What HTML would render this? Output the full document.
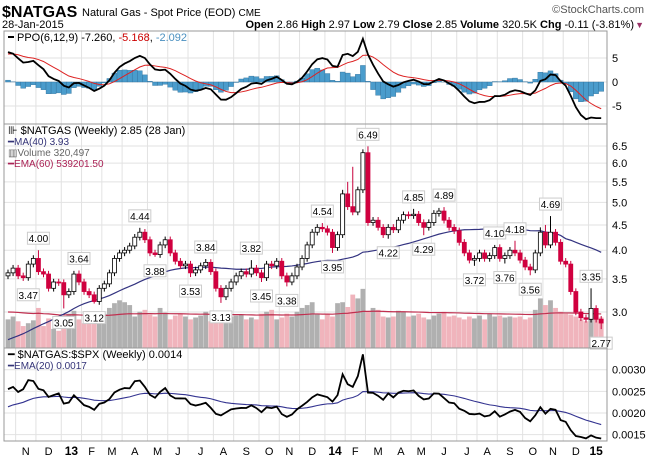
<!DOCTYPE html>
<html><head><meta charset="utf-8"><style>
body{margin:0;background:#fff;font-family:"Liberation Sans",sans-serif;}
svg{display:block}
text{font-family:"Liberation Sans",sans-serif;}
</style></head><body>
<svg id="c" width="649" height="460" viewBox="0 0 649 460" xmlns="http://www.w3.org/2000/svg">
<text x="2" y="17" font-size="16" font-weight="bold">$NATGAS</text>
<text x="82" y="16" font-size="11">Natural Gas - Spot Price (EOD) <tspan font-size="10">CME</tspan></text>
<text x="644" y="13" font-size="11" fill="#555" text-anchor="end">©StockCharts.com</text>
<text x="2" y="28" font-size="11">28-Jan-2015</text>
<text x="634" y="28" font-size="11" text-anchor="end"><tspan font-weight="bold">Open</tspan> 2.86  <tspan font-weight="bold">High</tspan> 2.97  <tspan font-weight="bold">Low</tspan> 2.79  <tspan font-weight="bold">Close</tspan> 2.85  <tspan font-weight="bold">Volume</tspan> 320.5K  <tspan font-weight="bold">Chg</tspan> -0.11 (-3.81%)</text>
<text x="644" y="28" font-size="9" fill="#993366" text-anchor="end">▼</text>
<g id="grid"></g><g id="marks"></g>
<rect x="4" y="31" width="603" height="93" fill="none" stroke="#999"/>
<rect x="4" y="124" width="603" height="224" fill="none" stroke="#999"/>
<rect x="4" y="348" width="603" height="93" fill="none" stroke="#999"/>
<g id="legend">
<rect x="8" y="36" width="6" height="2" fill="#000"/>
<text x="17" y="41" font-size="11">PPO(6,12,9) -7.260, <tspan fill="#cc0000">-5.168</tspan>, <tspan fill="#4a90c0">-2.092</tspan></text>
<text x="8" y="134" font-size="11">⊪ $NATGAS (Weekly) 2.85 (28 Jan)</text>
<text x="8" y="145" font-size="10" fill="#333377">━MA(40) 3.93</text>
<text x="8" y="156" font-size="10" fill="#666">▥Volume 320,497</text>
<text x="8" y="167" font-size="10" fill="#aa2255">━EMA(60) 539201.50</text>
<text x="8" y="358" font-size="11">━ $NATGAS:$SPX (Weekly) 0.0014</text>
<text x="8" y="369" font-size="10" fill="#333377">━EMA(20) 0.0017</text>
</g>
</svg>
<script>
const pre = [2.7,2.6,2.5,2.5,2.45,2.4,2.3,2.2,2.1,2.0,1.95,1.9,1.85,1.95,2.05,2.2,2.35,2.45,2.5,2.45,2.4,2.45,2.6,2.75,2.85,2.8,2.75,2.7,2.75,2.8,2.85,2.95,3.05,3.2,3.35,3.45,3.55,3.6,3.65];
const closes = [3.6,3.68,3.55,3.52,3.75,3.85,3.62,3.58,3.35,3.45,3.44,3.25,3.3,3.58,3.45,3.3,3.25,3.15,3.35,3.42,
3.6,3.85,3.95,4.0,4.08,4.25,4.35,4.2,3.95,3.92,4.1,4.2,3.95,3.8,3.72,3.75,3.6,3.65,3.72,3.78,
3.62,3.35,3.22,3.35,3.45,3.55,3.62,3.58,3.68,3.6,3.52,3.75,3.72,3.8,3.55,3.45,3.55,3.7,3.85,4.1,
4.35,4.45,4.42,4.35,4.05,4.3,5.2,4.9,4.78,5.3,6.3,4.55,4.6,4.45,4.3,4.45,4.4,4.6,4.72,4.7,
4.73,4.55,4.45,4.55,4.75,4.8,4.6,4.45,4.38,4.15,3.95,3.82,3.85,3.95,3.85,3.9,4.05,3.85,3.9,4.0,
3.95,3.82,3.7,3.65,3.95,4.35,4.1,4.35,4.15,3.8,3.75,3.3,3.0,2.92,2.9,3.05,2.9,2.85];
const volumes = [300,330,280,230,260,290,420,230,310,200,180,330,360,390,300,260,280,300,320,360,
420,470,500,480,450,330,380,400,350,330,420,370,300,340,360,330,300,320,340,380,
280,330,360,300,330,340,350,300,320,300,360,380,400,300,320,360,330,380,420,450,
480,360,300,360,330,470,480,430,560,520,620,380,420,400,330,320,330,390,380,330,
340,360,320,300,340,360,380,330,340,320,300,330,310,340,300,360,330,340,320,330,
320,330,300,320,400,520,450,500,420,380,360,350,330,300,280,350,300,320];
const spx = [1411,1414,1428,1380,1359,1406,1416,1418,1413,1430,1402,1466,1472,1486,1502,1513,1517,1519,1515,1525,
1551,1556,1556,1553,1588,1555,1582,1614,1633,1667,1649,1631,1643,1626,1592,1606,1632,1680,1692,1691,
1709,1691,1655,1663,1655,1687,1710,1692,1691,1703,1744,1760,1761,1770,1798,1805,1806,1775,1776,1818,
1842,1831,1842,1839,1790,1782,1797,1838,1836,1859,1878,1841,1866,1857,1865,1815,1864,1863,1878,1878,
1877,1900,1923,1949,1936,1962,1961,1985,1967,1978,1925,1931,1955,1988,2003,2007,1985,2010,1982,1968,
1906,1886,1964,2018,2031,2039,2067,2075,2002,2070,2088,2058,2044,2019,2051,2057,2028,2020];
const callouts = [[6,4.00,'h'],[4,3.47,'l'],[11,3.05,'l'],[14,3.64,'h'],[17,3.12,'l'],[26,4.44,'h'],[29,3.88,'l'],[39,3.84,'h'],[36,3.53,'l'],[42,3.13,'l'],[48,3.82,'h'],[50,3.45,'l'],[55,3.38,'l'],[62,4.54,'h'],[64,3.95,'l'],[71,6.49,'h'],[75,4.22,'l'],[80,4.85,'h'],[82,4.29,'l'],[86,4.89,'h'],[92,3.72,'l'],[96,4.10,'h'],[98,3.76,'l'],[100,4.18,'h'],[103,3.56,'l'],[107,4.69,'h'],[115,3.35,'h'],[117,2.77,'l']];
const extraHighs = [[66,5.3],[67,5.5],[68,5.9],[70,6.4],[105,4.45],[106,4.5]];
const priceTicks = [3.0,3.5,4.0,4.5,5.0,5.5,6.0,6.5];
const ppoTicks = [5,0,-5];
const ratioTicks = [0.0030,0.0025,0.0020,0.0015];
const startDate = [2012,9,22];
const firstOpen = 3.55;
const volSeed = 380;
const ratioEmaSeed = 0.0021;

const NS='http://www.w3.org/2000/svg';
const G=document.getElementById('grid'), M=document.getElementById('marks');
function mk(tag,attrs,parent){const e=document.createElementNS(NS,tag);for(const k in attrs)e.setAttribute(k,attrs[k]);(parent||M).appendChild(e);return e;}
const N=closes.length;
const xOf=i=>8+i*5.07;
const yP=p=>312-214.7*Math.log(p/3);
const yPPO=v=>82-v*4.8;
const yR=r=>413-(r-0.002)*43300;
const yV=v=>348-v/650*62;

const d0=new Date(startDate[0],startDate[1],startDate[2]);
const months=[];
for(let i=0;i<N;i++){const d=new Date(d0.getTime()+i*7*864e5);const m=d.getMonth();if(!months.length||months[months.length-1].m!==m)months.push({m:m,y:d.getFullYear(),s:i,e:i});else months[months.length-1].e=i;}
const ML='JFMAMJJASOND';
months.forEach((mo,k)=>{
  const xb=xOf(mo.s)-2.5;
  if(k>0){const l=mk('line',{x1:xb,x2:xb,y1:31,y2:441,stroke:'#e2e2e2'},G);
  
  }
  if(mo.e-mo.s<2 && k===0)return;
  const cx=(xOf(mo.s)+xOf(mo.e))/2;
  const t=mk('text',{x:cx,y:455,'font-size':mo.m===0?12:11,'font-weight':mo.m===0?'bold':'normal','text-anchor':'middle'},G);
  t.textContent=mo.m===0?String(mo.y).slice(2):ML[mo.m];
  
  
});
function hgrid(y,label){const l=mk('line',{x1:4,x2:607,y1:y,y2:y,stroke:'#e2e2e2'},G);


const t=mk('text',{x:612,y:y+4,'font-size':11},G);t.textContent=label;

}
priceTicks.forEach(p=>hgrid(yP(p),p.toFixed(1)));
ppoTicks.forEach(v=>hgrid(yPPO(v),String(v)));
ratioTicks.forEach(r=>hgrid(yR(r),r.toFixed(4)));

const opens=closes.map((c,i)=>i?closes[i-1]:firstOpen);
const highs=closes.map((c,i)=>Math.max(c,opens[i])*1.015);
const lows=closes.map((c,i)=>Math.min(c,opens[i])*0.985);
callouts.forEach(a=>{if(a[2]==='h')highs[a[0]]=a[1];else lows[a[0]]=a[1];});
extraHighs.forEach(a=>{highs[a[0]]=Math.max(highs[a[0]],a[1]);});

for(let i=0;i<N;i++){
  const up=closes[i]>=opens[i];
  const r=mk('rect',{x:xOf(i)-2.4,y:yV(volumes[i]),width:4.8,height:348-yV(volumes[i]),fill:up?'#b0b0b0':'#f0b4bc'});
  
  
}
let ev=volSeed,evp=[];
for(let i=0;i<N;i++){ev=ev+(volumes[i]-ev)*2/61;evp.push(xOf(i)+','+yV(ev));}
const evl=mk('polyline',{points:evp.join(' '),fill:'none',stroke:'#c03050','stroke-width':1.2});



const all=pre.concat(closes),P=pre.length;
const map=[];
for(let i=0;i<N;i++){let s=0;for(let k=P+i-39;k<=P+i;k++)s+=all[Math.max(0,k)];map.push(xOf(i)+','+yP(s/40));}
const mal=mk('polyline',{points:map.join(' '),fill:'none',stroke:'#333380','stroke-width':1.2});



for(let i=0;i<N;i++){
  const o=opens[i],c=closes[i],up=c>=o,x=xOf(i);
  const g=mk('g',{});
  
  
  mk('line',{x1:x,x2:x,y1:yP(highs[i]),y2:yP(lows[i]),stroke:up?'#000':'#c8003c','stroke-width':1},g);
  const yt=yP(Math.max(o,c)),yb=yP(Math.min(o,c));
  mk('rect',{x:x-2,y:yt,width:4,height:Math.max(1,yb-yt),fill:up?'#fff':'#d0003f',stroke:up?'#000':'#d0003f','stroke-width':0.8},g);
}
callouts.forEach(a=>{
  const x=xOf(a[0]),hi=a[2]==='h';
  const yy=hi?yP(a[1])-12:yP(a[1])+14;
  const g=mk('g',{});
  
  
  mk('rect',{x:x-11,y:yy-6,width:22,height:12,fill:'#fff',stroke:'#ccc'},g);
  const t=mk('text',{x:x,y:yy+4,'font-size':10,'text-anchor':'middle'},g);t.textContent=a[1].toFixed(2);
});

function emaArr(arr,n){const k=2/(n+1);let e=arr[0];return arr.map(v=>(e=e+(v-e)*k));}
const e6=emaArr(all,6),e12=emaArr(all,12);
const ppo=all.map((v,i)=>(e6[i]-e12[i])/e12[i]*100);
const sig=emaArr(ppo,9);
const pp=[],sp=[];
for(let i=0;i<N;i++){
  const v=ppo[P+i],s=sig[P+i],h=v-s,x=xOf(i);
  const r=mk('rect',{x:x-2.5,y:Math.min(yPPO(0),yPPO(h)),width:5,height:Math.abs(yPPO(h)-yPPO(0)),fill:'#4a9ccc',stroke:'#2e6f99','stroke-width':0.4});
  
  
  pp.push(x+','+yPPO(v));sp.push(x+','+yPPO(s));
}
const sl=mk('polyline',{points:sp.join(' '),fill:'none',stroke:'#dd2222','stroke-width':1});


const pl=mk('polyline',{points:pp.join(' '),fill:'none',stroke:'#000','stroke-width':1.8});



const ratio=closes.map((c,i)=>c/spx[i]);
let er=ratioEmaSeed;const rp=[],rep=[];
for(let i=0;i<N;i++){er=er+(ratio[i]-er)*2/21;rp.push(xOf(i)+','+yR(ratio[i]));rep.push(xOf(i)+','+yR(er));}
const rel=mk('polyline',{points:rep.join(' '),fill:'none',stroke:'#333390','stroke-width':1.1});


const rl=mk('polyline',{points:rp.join(' '),fill:'none',stroke:'#000','stroke-width':1.8});


</script>
</body></html>
